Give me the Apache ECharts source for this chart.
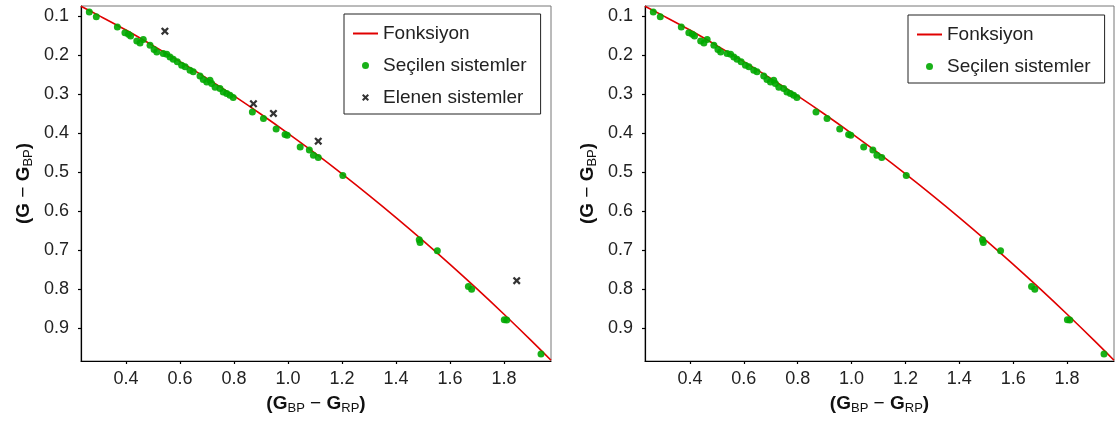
<!DOCTYPE html>
<html lang="tr">
<head>
<meta charset="UTF-8">
<title>Renk ilişkisi</title>
<style>
  html, body { margin: 0; padding: 0; background: #fff; }
  #chart { width: 1117px; height: 426px; }
</style>
</head>
<body>
<div id="chart"></div>
<script src="https://cdn.jsdelivr.net/npm/echarts@6/dist/echarts.min.js"></script>
<script>
// fonksiyon (okunan egri noktalari)
var fitX = [0.233, 0.3, 0.4, 0.5, 0.6, 0.7, 0.8, 0.9, 1.0, 1.1, 1.2, 1.3, 1.4, 1.5, 1.6, 1.7, 1.8, 1.9, 1.974];
var fitY = [0.075, 0.099, 0.136, 0.176, 0.217, 0.260, 0.305, 0.352, 0.401, 0.452, 0.505, 0.560, 0.617, 0.676, 0.737, 0.800, 0.865, 0.932, 0.983];

// secilen sistemler
var selX = [0.264, 0.290, 0.368, 0.396, 0.409, 0.417, 0.440, 0.452, 0.464, 0.489, 0.504, 0.514,
            0.538, 0.551, 0.563, 0.575, 0.590, 0.606, 0.619, 0.637, 0.649,
            0.674, 0.686, 0.699, 0.711, 0.717, 0.730, 0.748, 0.760, 0.773, 0.785, 0.797,
            0.868, 0.909, 0.956, 0.989, 0.997, 1.045, 1.079, 1.094, 1.112, 1.203,
            1.486, 1.489, 1.553, 1.668, 1.680, 1.801, 1.810, 1.937];
var selY = [0.090, 0.102, 0.128, 0.143, 0.147, 0.151, 0.164, 0.169, 0.160, 0.175, 0.186, 0.192,
            0.196, 0.198, 0.205, 0.211, 0.217, 0.226, 0.230, 0.239, 0.243,
            0.254, 0.263, 0.269, 0.265, 0.273, 0.283, 0.286, 0.295, 0.299, 0.303, 0.309,
            0.346, 0.363, 0.390, 0.404, 0.406, 0.436, 0.444, 0.457, 0.463, 0.509,
            0.674, 0.681, 0.702, 0.794, 0.801, 0.879, 0.880, 0.967];

// elenen sistemler
var rejX = [0.544, 0.872, 0.946, 1.112, 1.847];
var rejY = [0.139, 0.325, 0.350, 0.421, 0.779];

var xTicks = [0.4, 0.6, 0.8, 1.0, 1.2, 1.4, 1.6, 1.8];
var yTicks = [0.1, 0.2, 0.3, 0.4, 0.5, 0.6, 0.7, 0.8, 0.9];

function pairs(xs, ys) {
    var out = [];
    for (var i = 0; i < xs.length; i++) out.push([xs[i], ys[i]]);
    return out;
}

var FONT = '"Liberation Sans", Arial, sans-serif';
var TXT = '#222';
var crossPath = 'path://M0,2L2,0L5,3L8,0L10,2L7,5L10,8L8,10L5,7L2,10L0,8L3,5Z';
var lineIcon = 'path://M0,0L25,0L25,2L0,2Z';

var nameRich = {
    b: { fontFamily: FONT, fontSize: 19, fontWeight: 'bold', color: '#111', lineHeight: 22 },
    s: { fontFamily: FONT, fontSize: 13, color: '#111', lineHeight: 12, verticalAlign: 'bottom' },
    m: { fontFamily: FONT, fontSize: 19, color: '#111', lineHeight: 22 }
};

function xAxis(idx) {
    return {
        type: 'value', gridIndex: idx, min: 0.2333, max: 1.974,
        name: '{b|(G}{s|BP}{m| − }{b|G}{s|RP}{b|)}',
        nameLocation: 'middle', nameGap: 32,
        nameTextStyle: { rich: nameRich },
        axisLine: { show: true, onZero: false, lineStyle: { color: '#000', width: 1.2 } },
        axisTick: { show: true, length: 3, customValues: xTicks, lineStyle: { color: '#000', width: 1.2 } },
        axisLabel: {
            customValues: xTicks, margin: 9, color: TXT, fontFamily: FONT, fontSize: 18,
            formatter: function (v) { return v.toFixed(1); }
        },
        splitLine: { show: false }
    };
}

function yAxis(idx) {
    return {
        type: 'value', gridIndex: idx, min: 0.0743, max: 0.985, inverse: true,
        name: '{b|(G}{m| − }{b|G}{s|BP}{b|)}',
        nameLocation: 'middle', nameGap: 46,
        nameTextStyle: { rich: nameRich },
        axisLine: { show: true, onZero: false, lineStyle: { color: '#000', width: 1.2 } },
        axisTick: { show: true, length: 3, customValues: yTicks, lineStyle: { color: '#000', width: 1.2 } },
        axisLabel: {
            customValues: yTicks, margin: 12, color: TXT, fontFamily: FONT, fontSize: 18,
            formatter: function (v) { return v.toFixed(1); }
        },
        splitLine: { show: false }
    };
}

function legend(left, top, names) {
    var data = names.map(function (n) {
        return n === 'Fonksiyon' ? { name: n, icon: lineIcon } : { name: n };
    });
    return {
        orient: 'vertical', left: left, top: top,
        data: data,
        itemWidth: 25, itemHeight: 7, itemGap: 13,
        padding: [10, 14, 7, 9],
        borderColor: '#222', borderWidth: 1, borderRadius: 0,
        backgroundColor: '#fff',
        textStyle: { fontFamily: FONT, fontSize: 19, color: TXT },
        selectedMode: false
    };
}

var option = {
    animation: false,
    backgroundColor: '#fff',
    grid: [
        { left: 81, top: 6, width: 470, height: 355, show: true, borderColor: '#777', borderWidth: 1 },
        { left: 645, top: 6, width: 469, height: 355, show: true, borderColor: '#777', borderWidth: 1 }
    ],
    xAxis: [xAxis(0), xAxis(1)],
    yAxis: [yAxis(0), yAxis(1)],
    legend: [
        legend(344, 14, ['Fonksiyon', 'Seçilen sistemler', 'Elenen sistemler']),
        legend(908, 15, ['Fonksiyon', 'Seçilen sistemler'])
    ],
    series: [
        {
            name: 'Fonksiyon', type: 'line', xAxisIndex: 0, yAxisIndex: 0,
            data: pairs(fitX, fitY), symbol: 'none', smooth: 0.3,
            lineStyle: { color: '#e00000', width: 1.6 }, itemStyle: { color: '#e00000' }, z: 2
        },
        {
            name: 'Seçilen sistemler', type: 'scatter', xAxisIndex: 0, yAxisIndex: 0,
            data: pairs(selX, selY), symbol: 'circle', symbolSize: 7,
            itemStyle: { color: '#00a800', opacity: 0.9 }, z: 3
        },
        {
            name: 'Elenen sistemler', type: 'scatter', xAxisIndex: 0, yAxisIndex: 0,
            data: pairs(rejX, rejY), symbol: crossPath, symbolSize: 8,
            itemStyle: { color: '#000' }, z: 4
        },
        {
            name: 'Fonksiyon', type: 'line', xAxisIndex: 1, yAxisIndex: 1,
            data: pairs(fitX, fitY), symbol: 'none', smooth: 0.3,
            lineStyle: { color: '#e00000', width: 1.6 }, itemStyle: { color: '#e00000' }, z: 2
        },
        {
            name: 'Seçilen sistemler', type: 'scatter', xAxisIndex: 1, yAxisIndex: 1,
            data: pairs(selX, selY), symbol: 'circle', symbolSize: 7,
            itemStyle: { color: '#00a800', opacity: 0.9 }, z: 3
        }
    ]
};

var chart = echarts.init(document.getElementById('chart'));
chart.setOption(option);
</script>
</body>
</html>
